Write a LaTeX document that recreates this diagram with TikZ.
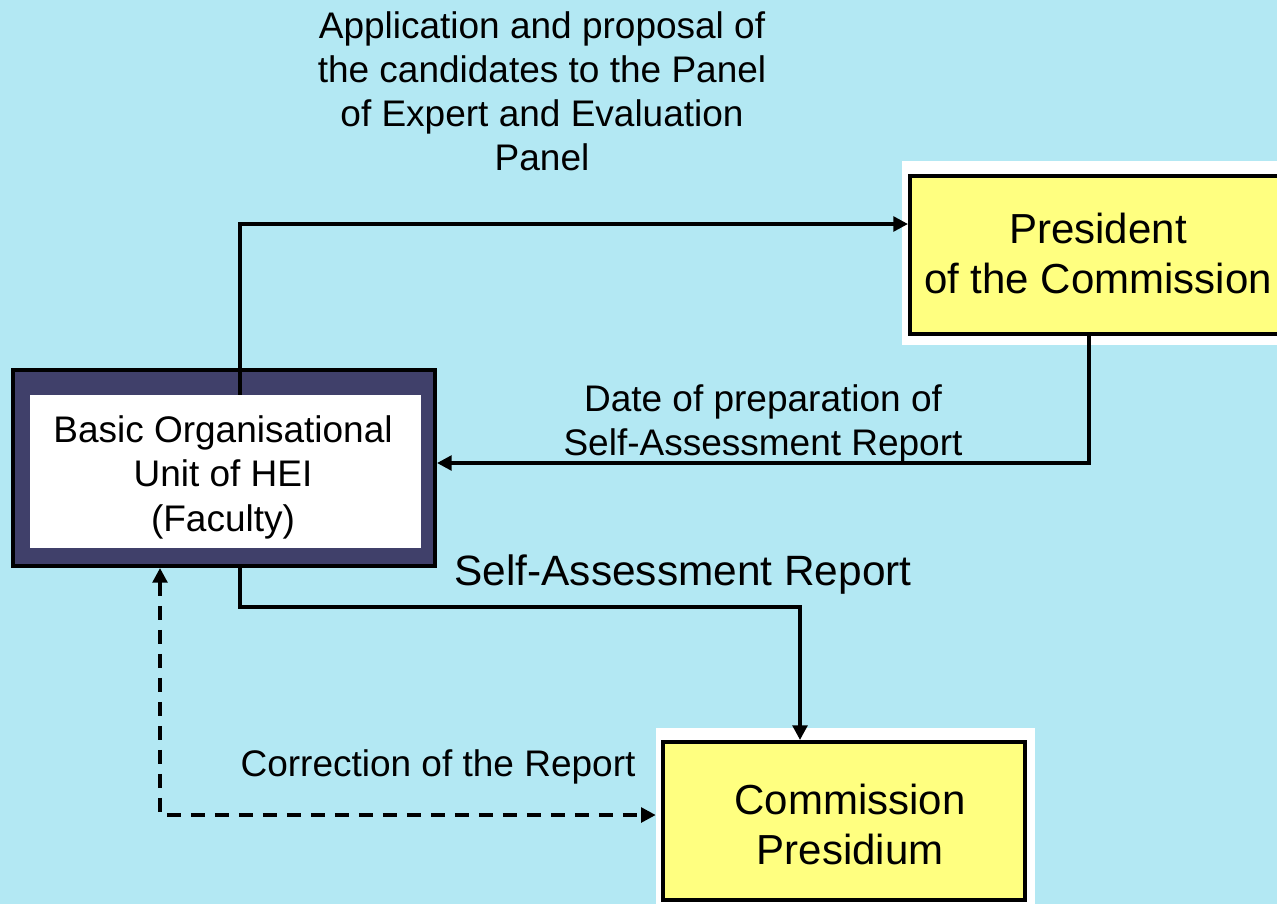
\documentclass[tikz,border=0pt]{standalone}
\usepackage{fontspec}
\setmainfont{Liberation Sans}
\usetikzlibrary{arrows.meta,calc}
\definecolor{bgblue}{RGB}{179,232,243}
\definecolor{boxyellow}{RGB}{255,255,128}
\definecolor{navy}{RGB}{64,64,106}
\tikzset{
  whitebg/.style={fill=white,draw=none,inner sep=0pt},
  yellowbox/.style={fill=boxyellow,draw=black,line width=3pt,inner sep=0pt,align=center,
     font=\fontsize{31.5}{37.5}\selectfont},
  conn/.style={line width=2.6pt,-{Triangle[length=11pt,width=11pt]}},
  dconn/.style={line width=2.6pt,dash pattern=on 11pt off 7pt,
     {Triangle[length=11pt,width=11pt]}-{Triangle[length=11pt,width=11pt]}},
  lbl/.style={align=center,inner sep=0pt,font=\fontsize{27.75}{33}\selectfont}
}
\begin{document}
\begin{tikzpicture}[x=0.75pt,y=-0.75pt]
\useasboundingbox (0,0) rectangle (1277,904);
\fill[bgblue] (0,0) rectangle (1277,904);
\clip (0,0) rectangle (1277,904);
% President of the Commission
\node[whitebg,minimum width=291pt,minimum height=138pt] (presw) at (1096,253) {};
\node[yellowbox,minimum width=282pt,minimum height=118.5pt] (pres) at (1098,255) {};
\node[yellowbox,fill=none,draw=none] (prest) at (1098,253) {President\\of the Commission};
% Basic Organisational Unit
\node[fill=navy,draw=black,line width=3pt,inner sep=0pt,minimum width=316.5pt,minimum height=147pt] (bou) at (224,468) {};
\node[fill=white,inner sep=0pt,minimum width=293.25pt,minimum height=114.75pt] (bouin) at (225.5,471.5) {};
\node[align=center,inner sep=0pt,font=\fontsize{27.75}{33.4}\selectfont] (bout) at (223,477) {Basic Organisational\\Unit of HEI\\(Faculty)};
% Commission Presidium
\node[whitebg,minimum width=284.25pt,minimum height=136.5pt] (cpw) at (845.5,819) {};
\node[yellowbox,minimum width=271.5pt,minimum height=118.5pt] (cp) at (844,821) {};
\node[yellowbox,fill=none,draw=none] (cpt) at (850,824) {Commission\\Presidium};
% helper coordinates
\coordinate (c1) at (240,224);
\coordinate (c2) at (1089,463);
\coordinate (c3) at (240,607);
\coordinate (c4) at (800,607);
\coordinate (c5) at (160,815);
% connectors
\draw[conn] (bouin.north -| c1) -- (c1) -- (c1 -| pres.west);
\draw[conn] (pres.south -| c2) -- (c2) -- (c2 -| bou.east);
\draw[conn] (bou.south -| c3) -- (c3) -- (c4) -- (c4 |- cp.north);
\draw[dconn] (bou.south -| c5) -- (c5) -- (c5 -| cpw.west);
% labels
\node[lbl] (t1) at (542,91) {Application and proposal of\\the candidates to the Panel\\of Expert and Evaluation\\Panel};
\node[lbl] (t2) at (763,424) {Date of preparation of\\Self-Assessment Report};
\node[lbl,font=\fontsize{31.8}{38}\selectfont] (t3) at (683,575) {Self-Assessment Report};
\node[lbl] (t4) at (438,767) {Correction of the Report};
\end{tikzpicture}
\end{document}
